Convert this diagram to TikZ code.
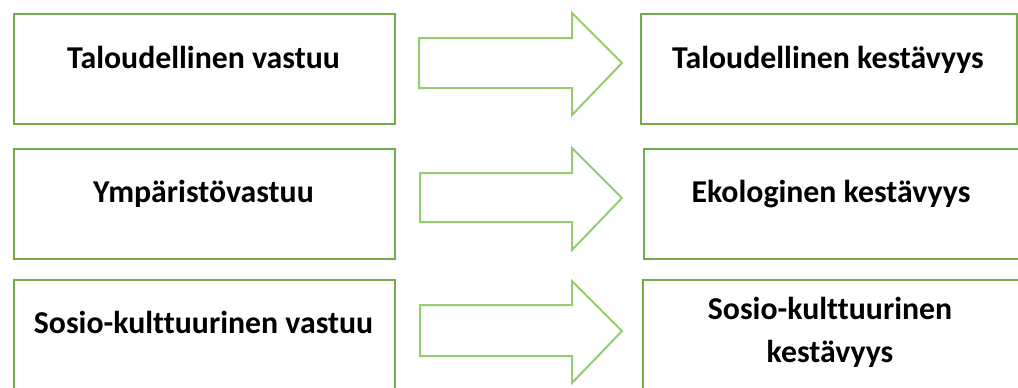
\documentclass[tikz,border=0pt]{standalone}
\usepackage{fontspec}
\setmainfont{Carlito}[Ligatures=NoCommon]
\definecolor{boxgreen}{RGB}{112,173,71}
\definecolor{arrowgreen}{RGB}{150,203,112}
\begin{document}
\begin{tikzpicture}[x=1pt,y=-1pt,
  panel/.style={draw=boxgreen,line width=2pt,fill=white,inner sep=0pt,anchor=north west},
  caption/.style={font=\fontsize{31.8}{43}\selectfont\bfseries,align=center,anchor=base,inner sep=0pt},
  blockarrow/.style={draw=arrowgreen,line width=2pt,line join=miter,fill=white}]
\useasboundingbox (0,0) rectangle (1018,388);

% left column: responsibilities
\node[panel,minimum width=381pt,minimum height=110pt] (l1) at (13,13) {};
\node[panel,minimum width=381pt,minimum height=110pt] (l2) at (13,148) {};
\node[panel,minimum width=381pt,minimum height=110pt] (l3) at (13,279) {};

% right column: sustainability
\node[panel,minimum width=376pt,minimum height=110pt] (r1) at (640,13) {};
\node[panel,minimum width=376pt,minimum height=110pt] (r2) at (643,148) {};
\node[panel,minimum width=376pt,minimum height=110pt] (r3) at (642,279) {};

% labels
\node[caption] (t1) at (203.5,68) {Taloudellinen vastuu};
\node[caption] (t2) at (203.5,202) {Ympäristövastuu};
\node[caption] (t3) at (203.5,333) {Sosio-kulttuurinen vastuu};
\node[caption] (u1) at (828,68) {Taloudellinen kestävyys};
\node[caption] (u2) at (831,202) {Ekologinen kestävyys};
\node[caption] (u3) at (830,362) {Sosio-kulttuurinen\\kestävyys};

% block arrows between the columns
\draw[blockarrow] (419,38) -- (572,38) -- (572,13) -- (622,63) -- (572,115) -- (572,88) -- (419,88) -- cycle;
\draw[blockarrow] (420,173) -- (572,173) -- (572,148) -- (622,198) -- (572,250) -- (572,222) -- (420,222) -- cycle;
\draw[blockarrow] (420,305) -- (572,305) -- (572,281) -- (622,331) -- (572,383) -- (572,356) -- (420,356) -- cycle;
\end{tikzpicture}
\end{document}
